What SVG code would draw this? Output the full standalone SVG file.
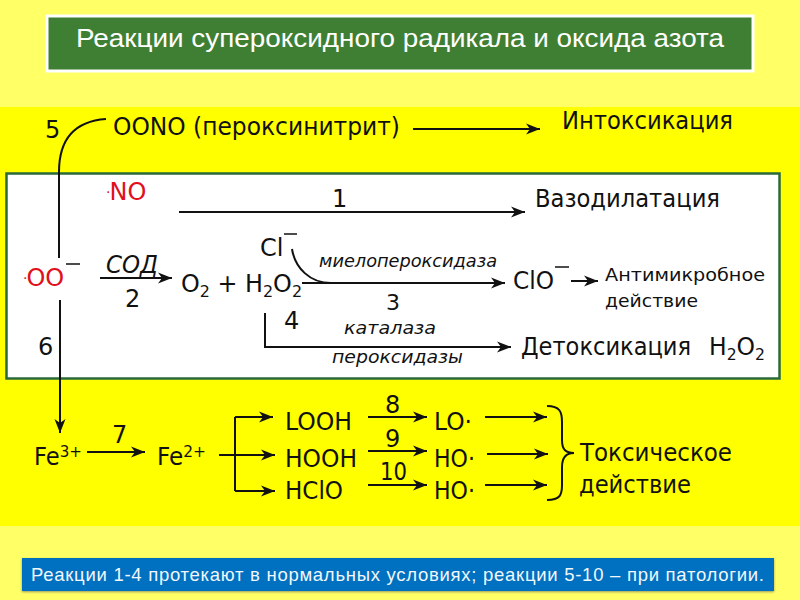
<svg xmlns="http://www.w3.org/2000/svg" width="800" height="600" viewBox="0 0 800 600">
<style>
text{font-family:"DejaVu Sans","Liberation Sans",sans-serif;fill:#111}
.a{font-size:24px}
.i{font-size:18px;font-style:italic}
.r{fill:#e0101c}
.s{font-size:14px}
.u{font-size:16px}
.sup{font-size:16px}
.m{font-size:18.500px}
.l{fill:none;stroke:#111;stroke-width:2}
.ar{marker-end:url(#h)}
</style>
<defs>
<marker id="h" markerUnits="userSpaceOnUse" markerWidth="16" markerHeight="14" refX="14" refY="7" orient="auto"><path d="M0 1.500 L14 7 L0 12.500 L4 7Z" fill="#111"/></marker>
<filter id="sh" x="-2%" y="-10%" width="104%" height="125%"><feDropShadow dx="0" dy="1" stdDeviation="1" flood-color="#555" flood-opacity=".6"/></filter>
</defs>
<rect width="800" height="600" fill="#ffff66"/>
<rect y="107" width="800" height="419" fill="#ffff00"/>
<g id="title">
<rect x="47" y="16" width="706" height="55" fill="#3f7f33" stroke="#fff" stroke-width="3"/>
<text x="76" y="47" style="font-family:'Liberation Sans',sans-serif;font-size:25px;fill:#fff" textLength="648" lengthAdjust="spacingAndGlyphs">Реакции супероксидного радикала и оксида азота</text>
</g>
<g id="panel"><rect x="6.500" y="173.500" width="773" height="205" fill="#fff" stroke="#2a6a3a" stroke-width="2.500"/></g>
<g id="connectors">
<path class="l" d="M106 119 C78 121 59 135 59 172 L59 258"/>
<path class="l ar" d="M60 300 L60 433"/>
<path class="l ar" d="M413 129 L540 129"/>
<path class="l ar" d="M179 212 L525 212"/>
<path class="l ar" d="M100 278 L172 278"/>
<path class="l ar" d="M302 283 L505 283"/>
<path class="l" d="M292 249 C295 268 310 283 331 283"/>
<path class="l ar" d="M571 281 L598 281"/>
<path class="l ar" d="M265 313 L265 347 L511 347"/>
<path class="l ar" d="M87 452 L145 452"/>
<path class="l" d="M219 455 L235 455 M235 417 L235 491"/>
<path class="l ar" d="M235 417 L273 417"/>
<path class="l ar" d="M235 455 L275 455"/>
<path class="l ar" d="M235 491 L275 491"/>
<path class="l ar" d="M368 417 L427 417"/>
<path class="l ar" d="M368 451 L427 451"/>
<path class="l ar" d="M368 485 L427 485"/>
<path class="l ar" d="M485 417 L547 417"/>
<path class="l ar" d="M487 454 L548 454"/>
<path class="l ar" d="M485 485 L547 485"/>
<path class="l" d="M547 406 C560 406 562 412 562 422 L562 440 C562 450 566 453 574 453 C566 453 562 457 562 467 L562 485 C562 495 560 500 547 500"/>
</g>
<g id="n-oono"><text class="a" x="113" y="135" textLength="287" lengthAdjust="spacingAndGlyphs">OONO (пероксинитрит)</text><text class="a" x="45" y="138">5</text></g>
<g id="n-intox"><text class="a" x="562" y="129" textLength="171" lengthAdjust="spacingAndGlyphs">Интоксикация</text></g>
<g id="n-no"><text class="a r" x="106" y="200"><tspan class="s" dy="-3" style="fill:#e0101c">·</tspan><tspan dy="3" dx="-1" style="fill:#e0101c">NO</tspan></text></g>
<g id="l1"><text class="a" x="332" y="207">1</text></g>
<g id="n-vaso"><text class="a" x="535" y="207" textLength="185" lengthAdjust="spacingAndGlyphs">Вазодилатация</text></g>
<g id="n-oo"><text class="a r" x="23" y="286"><tspan class="s" dy="-3" style="fill:#e0101c">·</tspan><tspan dy="3" dx="-1" style="fill:#e0101c">OO</tspan></text><path d="M66 264 H80" stroke="#111" stroke-width="1.500"/></g>
<g id="l-sod"><text class="a" x="106" y="273" style="font-style:italic" textLength="52" lengthAdjust="spacingAndGlyphs">СОД</text><text class="a" x="125" y="307">2</text></g>
<g id="n-o2"><text class="a" x="181" y="292" textLength="121" lengthAdjust="spacingAndGlyphs">O<tspan class="u" dy="5">2</tspan><tspan dy="-5"> + H</tspan><tspan class="u" dy="5">2</tspan><tspan dy="-5">O</tspan><tspan class="u" dy="5">2</tspan></text></g>
<g id="n-cl"><text class="a" x="260" y="256">Cl</text><path d="M284 234 H297" stroke="#111" stroke-width="1.500"/></g>
<g id="l3"><text class="i" x="319" y="267" textLength="178" lengthAdjust="spacingAndGlyphs">миелопероксидаза</text><text x="386" y="310" style="font-size:22px">3</text></g>
<g id="n-clo"><text class="a" x="513" y="289" textLength="41" lengthAdjust="spacingAndGlyphs">ClO</text><path d="M555 267 H569" stroke="#111" stroke-width="1.500"/></g>
<g id="n-anti"><text class="m" x="605" y="281" textLength="160" lengthAdjust="spacingAndGlyphs">Антимикробное</text><text class="m" x="605" y="307" textLength="93" lengthAdjust="spacingAndGlyphs">действие</text></g>
<g id="l4"><text class="a" x="284" y="329">4</text><text x="344" y="334" style="font-size:17px;font-style:italic" textLength="92" lengthAdjust="spacingAndGlyphs">каталаза</text><text class="i" x="332" y="363" textLength="131" lengthAdjust="spacingAndGlyphs">пероксидазы</text></g>
<g id="n-detox"><text class="a" x="521" y="355" textLength="170" lengthAdjust="spacingAndGlyphs">Детоксикация</text><text class="a" x="709" y="355" textLength="56" lengthAdjust="spacingAndGlyphs">H<tspan class="u" dy="5">2</tspan><tspan dy="-5">O</tspan><tspan class="u" dy="5">2</tspan></text></g>
<g id="l6"><text class="a" x="38" y="355">6</text></g>
<g id="n-fe3"><text class="a" x="34" y="465" textLength="48" lengthAdjust="spacingAndGlyphs">Fe<tspan class="sup" dy="-8">3+</tspan></text></g>
<g id="l7"><text class="a" x="112" y="443">7</text></g>
<g id="n-fe2"><text class="a" x="157" y="465" textLength="49" lengthAdjust="spacingAndGlyphs">Fe<tspan class="sup" dy="-8">2+</tspan></text></g>
<g id="n-looh"><text class="a" x="285" y="430" textLength="67" lengthAdjust="spacingAndGlyphs">LOOH</text></g>
<g id="n-hooh"><text class="a" x="285" y="467" textLength="72" lengthAdjust="spacingAndGlyphs">HOOH</text></g>
<g id="n-hclo"><text class="a" x="285" y="499" textLength="58" lengthAdjust="spacingAndGlyphs">HClO</text></g>
<g id="l8"><text class="a" x="385" y="413">8</text></g>
<g id="l9"><text class="a" x="385" y="447">9</text></g>
<g id="l10"><text class="a" x="380" y="480" textLength="27" lengthAdjust="spacingAndGlyphs">10</text></g>
<g id="n-lo"><text class="a" x="434" y="430" textLength="38" lengthAdjust="spacingAndGlyphs">LO·</text></g>
<g id="n-ho1"><text class="a" x="434" y="467" textLength="41" lengthAdjust="spacingAndGlyphs">HO·</text></g>
<g id="n-ho2"><text class="a" x="434" y="499" textLength="41" lengthAdjust="spacingAndGlyphs">HO·</text></g>
<g id="n-tox"><text class="a" x="580" y="461" textLength="152" lengthAdjust="spacingAndGlyphs">Токсическое</text><text class="a" x="579" y="493" textLength="112" lengthAdjust="spacingAndGlyphs">действие</text></g>
<g id="note">
<rect x="22" y="558" width="752" height="33" fill="#0070c0" filter="url(#sh)"/>
<text x="31" y="581" style="font-family:'Liberation Sans',sans-serif;font-size:18.500px;fill:#f2f7fb" textLength="733" lengthAdjust="spacing">Реакции 1-4 протекают в нормальных условиях; реакции 5-10 – при патологии.</text>
</g>
</svg>
